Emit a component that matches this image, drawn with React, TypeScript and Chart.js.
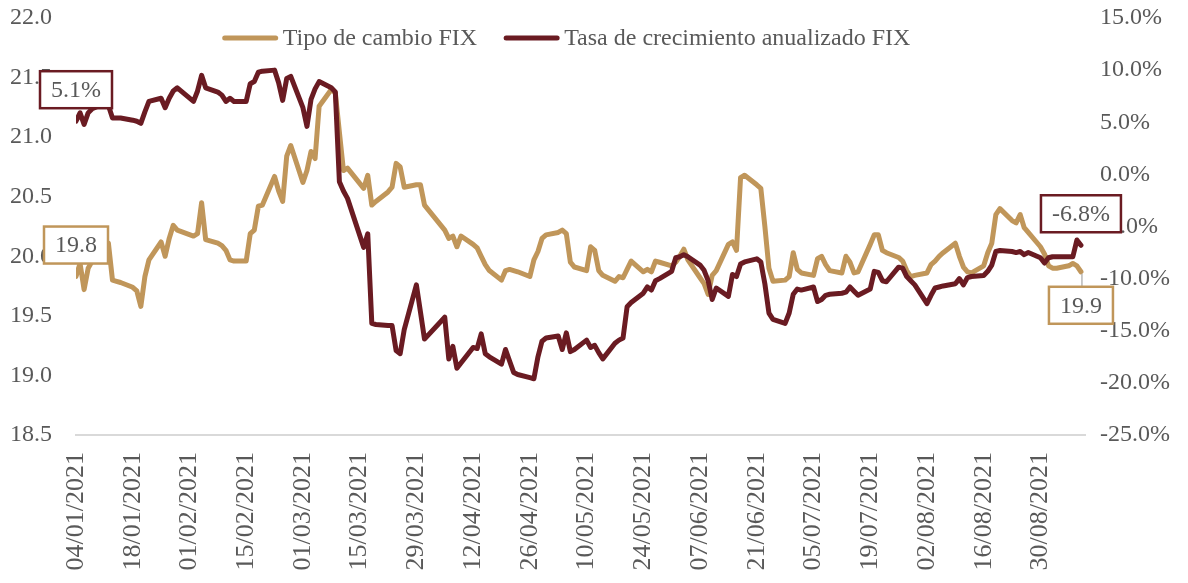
import { useEffect, useRef } from 'react';
import { Chart, registerables } from 'chart.js';

Chart.register(...registerables);

const YEAR = 2021;

// Business days (dd/mm)
const dates: string[] = [
  '04/01','05/01','06/01','07/01','08/01','11/01','12/01','13/01','14/01','15/01','18/01','19/01','20/01','21/01','22/01','25/01','26/01','27/01','28/01','29/01',
  '02/02','03/02','04/02','05/02','08/02','09/02','10/02','11/02','12/02','15/02','16/02','17/02','18/02','19/02','22/02','23/02','24/02','25/02','26/02',
  '01/03','02/03','03/03','04/03','05/03','08/03','09/03','10/03','11/03','12/03','16/03','17/03','18/03','19/03','22/03','23/03','24/03','25/03','26/03','29/03','30/03','31/03',
  '05/04','06/04','07/04','08/04','09/04','12/04','13/04','14/04','15/04','16/04','19/04','20/04','21/04','22/04','23/04','26/04','27/04','28/04','29/04','30/04',
  '03/05','04/05','05/05','06/05','07/05','10/05','11/05','12/05','13/05','14/05','17/05','18/05','19/05','20/05','21/05','24/05','25/05','26/05','27/05','28/05','31/05',
  '01/06','02/06','03/06','04/06','07/06','08/06','09/06','10/06','11/06','14/06','15/06','16/06','17/06','18/06','21/06','22/06','23/06','24/06','25/06','28/06','29/06','30/06',
  '01/07','02/07','05/07','06/07','07/07','08/07','09/07','12/07','13/07','14/07','15/07','16/07','19/07','20/07','21/07','22/07','23/07','26/07','27/07','28/07','29/07','30/07',
  '02/08','03/08','04/08','05/08','06/08','09/08','10/08','11/08','12/08','13/08','16/08','17/08','18/08','19/08','20/08','23/08','24/08','25/08','26/08','27/08','30/08','31/08',
  '01/09','02/09','03/09','06/09','07/09','08/09','09/09',
];

// Tipo de cambio FIX (pesos por dólar)
const fixValues: number[] = [
  19.83,19.94,19.72,19.90,19.96,20.07,20.11,19.80,19.79,19.78,19.74,19.71,19.58,19.83,19.97,20.12,20.00,20.15,20.26,20.22,
  20.17,20.19,20.45,20.14,20.11,20.09,20.05,19.97,19.96,19.96,20.19,20.22,20.42,20.43,20.67,20.55,20.46,20.84,20.93,
  20.62,20.72,20.88,20.82,21.26,21.40,21.37,21.04,20.72,20.74,20.57,20.68,20.43,20.46,20.54,20.58,20.78,20.75,20.58,20.60,20.60,20.43,
  20.22,20.15,20.17,20.08,20.17,20.10,20.07,20.00,19.93,19.88,19.80,19.88,19.89,19.88,19.87,19.83,19.97,20.04,20.15,20.18,
  20.20,20.22,20.19,19.95,19.91,19.88,20.08,20.05,19.88,19.84,19.79,19.83,19.82,19.89,19.96,19.87,19.89,19.87,19.96,19.95,19.92,
  19.95,20.00,20.06,19.97,19.82,19.77,19.68,19.84,19.88,20.10,20.12,20.05,20.66,20.68,20.60,20.57,20.25,19.90,19.79,19.80,19.83,20.03,
  19.89,19.86,19.84,19.98,20.00,19.93,19.88,19.86,20.00,19.95,19.86,19.87,20.10,20.18,20.18,20.05,20.03,19.99,19.96,19.88,19.83,19.84,
  19.86,19.93,19.96,20.00,20.03,20.11,20.00,19.91,19.87,19.86,19.92,20.03,20.11,20.35,20.40,20.30,20.28,20.35,20.24,20.20,20.08,20.02,
  19.92,19.90,19.90,19.92,19.94,19.92,19.87,
];

// Tasa de crecimiento anualizado FIX (%)
const growthValues: number[] = [
  5.1,5.9,4.8,5.9,6.3,6.8,6.6,5.4,5.4,5.4,5.2,5.1,4.9,6.0,7.0,7.3,6.4,7.3,8.0,8.3,
  7.0,8.0,9.5,8.3,7.9,7.6,7.0,7.3,7.0,7.0,8.7,8.9,9.8,9.9,10.0,8.8,7.1,9.2,9.4,
  6.4,4.6,7.2,8.2,8.9,8.3,7.9,-0.7,-1.6,-2.3,-7.0,-5.7,-14.3,-14.4,-14.5,-14.5,-16.9,-17.2,-14.9,-10.6,-13.2,-15.8,
  -13.7,-17.7,-16.5,-18.6,-18.1,-16.6,-16.7,-15.3,-17.2,-17.5,-18.2,-16.8,-17.9,-19.0,-19.2,-19.5,-19.6,-17.5,-16.0,-15.7,
  -15.5,-16.8,-15.2,-17.0,-16.8,-15.9,-16.6,-16.4,-17.1,-17.7,-16.2,-15.9,-15.7,-12.7,-12.3,-11.4,-10.8,-11.1,-10.2,-10.0,-9.3,
  -8.0,-7.9,-7.7,-7.9,-8.7,-9.2,-10.2,-12.0,-10.9,-11.7,-9.6,-9.8,-8.6,-8.4,-8.1,-8.4,-10.5,-13.3,-13.9,-14.3,-13.3,-11.5,
  -11.0,-11.1,-10.8,-12.2,-12.0,-11.6,-11.5,-11.4,-11.3,-10.8,-11.2,-11.6,-11.0,-9.3,-9.4,-10.2,-10.3,-8.9,-9.0,-9.8,-10.2,-10.6,
  -12.4,-11.6,-10.9,-10.8,-10.7,-10.5,-10.0,-10.6,-9.9,-9.8,-9.7,-9.3,-8.7,-7.4,-7.3,-7.4,-7.5,-7.4,-7.7,-7.5,-8.0,-8.5,
  -8.0,-7.9,-7.9,-7.9,-7.9,-6.3,-6.8,
];

const tickDates: string[] = ['04/01','18/01','01/02','15/02','01/03','15/03','29/03','12/04','26/04','10/05','24/05','07/06','21/06','05/07','19/07','02/08','16/08','30/08'];

const fixTicks = { min: 18.5, max: 22.0, step: 0.5 };
const growthTicks = { min: -25, max: 15, step: 5 };

const seriesNames: string[] = ['Tipo de cambio FIX', 'Tasa de crecimiento anualizado FIX'];

const GOLD = '#C0965A';
const MAROON = '#6A1B22';
const TEXT = '#595959';
const FONT = '"Liberation Serif", "Times New Roman", serif';

const START = Date.UTC(YEAR, 0, 4);
function dayOf(s: string): number {
  const [d, m] = s.split('/').map(Number);
  return (Date.UTC(YEAR, m - 1, d) - START) / 86400000;
}
function labelOf(v: number): string {
  const dt = new Date(START + v * 86400000);
  const dd = String(dt.getUTCDate()).padStart(2, '0');
  const mm = String(dt.getUTCMonth() + 1).padStart(2, '0');
  return `${dd}/${mm}/${dt.getUTCFullYear()}`;
}

const legendPlugin = {
  id: 'customLegend',
  afterDraw(chart: any) {
    const ctx = chart.ctx;
    const area = chart.chartArea;
    ctx.save();
    ctx.font = `24px ${FONT}`;
    const lineW = 55;
    const gap = 5;
    const spacing = 27;
    const order = [0, 1];
    const widths = order.map((i) => lineW + gap + ctx.measureText(chart.data.datasets[i].label).width);
    const total = widths.reduce((a, b) => a + b, 0) + spacing;
    let x = (area.left + area.right) / 2 - total / 2 - 14;
    const y = 38;
    order.forEach((i, k) => {
      const ds = chart.data.datasets[i];
      ctx.strokeStyle = ds.borderColor;
      ctx.lineWidth = 5;
      ctx.lineCap = 'round';
      ctx.beginPath();
      ctx.moveTo(x + 2, y);
      ctx.lineTo(x + lineW - 2, y);
      ctx.stroke();
      ctx.fillStyle = TEXT;
      ctx.textBaseline = 'middle';
      ctx.textAlign = 'left';
      ctx.fillText(ds.label, x + lineW + gap, y + 1);
      x += widths[k] + spacing;
    });
    ctx.restore();
  },
};

const labelPlugin = {
  id: 'endLabels',
  afterDatasetsDraw(chart: any) {
    const ctx = chart.ctx;
    const last = dates.length - 1;
    const specs = [
      { ds: 0, idx: 0, above: true, leader: false, fmt: (v: number) => v.toFixed(1) },
      { ds: 0, idx: last, above: false, leader: true, fmt: (v: number) => v.toFixed(1) },
      { ds: 1, idx: 0, above: true, leader: false, fmt: (v: number) => v.toFixed(1) + '%' },
      { ds: 1, idx: last, above: true, leader: false, fmt: (v: number) => v.toFixed(1) + '%' },
    ];
    ctx.save();
    ctx.font = `24px ${FONT}`;
    specs.forEach((s) => {
      const meta = chart.getDatasetMeta(s.ds);
      const el = meta.data[s.idx];
      const ds = chart.data.datasets[s.ds];
      const val = ds.data[s.idx].y;
      const text = s.fmt(val);
      const tw = ctx.measureText(text).width;
      const w = tw + 22;
      const h = 37;
      const cx = el.x;
      let top: number;
      if (s.above) {
        top = el.y - 13 - h;
      } else {
        top = el.y + 15;
      }
      if (s.leader) {
        ctx.strokeStyle = '#A6A6A6';
        ctx.lineWidth = 1.2;
        ctx.beginPath();
        ctx.moveTo(cx + 1, el.y + 2);
        ctx.lineTo(cx + 1, top);
        ctx.stroke();
      }
      ctx.fillStyle = '#FFFFFF';
      ctx.fillRect(cx - w / 2, top, w, h);
      ctx.strokeStyle = ds.borderColor;
      ctx.lineWidth = 2.5;
      ctx.strokeRect(cx - w / 2, top, w, h);
      ctx.fillStyle = TEXT;
      ctx.textAlign = 'center';
      ctx.textBaseline = 'middle';
      ctx.fillText(text, cx, top + h / 2 + 1);
    });
    ctx.restore();
  },
};

// Forces the plot area to a fixed box so axes line up with the reference.
const areaPlugin = {
  id: 'fixedArea',
  afterLayout(chart: any) {
    const a = chart.chartArea;
    a.top = 18;
    a.bottom = 435;
    a.left = 76;
    a.right = 1085;
    a.width = a.right - a.left;
    a.height = a.bottom - a.top;
    Object.values(chart.scales).forEach((s: any) => {
      if (s.isHorizontal()) {
        s.left = a.left;
        s.right = a.right;
        s.width = a.width;
        s.top = a.bottom;
        s.bottom = chart.height;
        s.height = s.bottom - s.top;
      } else {
        s.top = a.top;
        s.bottom = a.bottom;
        s.height = a.height;
        if (s.position === 'left') {
          s.left = 0;
          s.right = a.left;
        } else {
          s.left = a.right;
          s.right = chart.width;
        }
        s.width = s.right - s.left;
      }
      s.configure();
      s._startPixel = s.isHorizontal() ? a.left : a.top;
      s._endPixel = s.isHorizontal() ? a.right : a.bottom;
      s._length = s._endPixel - s._startPixel;
    });
  },
};

export default function App() {
  const ref = useRef<HTMLCanvasElement>(null);
  useEffect(() => {
    const xMax = dayOf(dates[dates.length - 1]) + 1;
    const chart = new Chart(ref.current as HTMLCanvasElement, {
      type: 'line',
      data: {
        datasets: [
          {
            label: seriesNames[0],
            data: dates.map((d, i) => ({ x: dayOf(d), y: fixValues[i] })),
            borderColor: GOLD,
            backgroundColor: GOLD,
            borderWidth: 5,
            pointRadius: 0,
            tension: 0,
            borderJoinStyle: 'round',
            borderCapStyle: 'round',
            yAxisID: 'y',
            order: 1,
          },
          {
            label: seriesNames[1],
            data: dates.map((d, i) => ({ x: dayOf(d), y: growthValues[i] })),
            borderColor: MAROON,
            backgroundColor: MAROON,
            borderWidth: 5,
            pointRadius: 0,
            tension: 0,
            borderJoinStyle: 'round',
            borderCapStyle: 'round',
            yAxisID: 'y1',
            order: 0,
          },
        ],
      },
      options: {
        responsive: false,
        animation: false,
        devicePixelRatio: 1,
        layout: { padding: { top: 0, left: 0, right: 0, bottom: 0 } },
        plugins: { legend: { display: false }, tooltip: { enabled: false } },
        scales: {
          x: {
            type: 'linear',
            min: 0,
            max: xMax,
            afterBuildTicks: (s: any) => {
              s.ticks = tickDates.map((t) => ({ value: dayOf(t) }));
            },
            afterFit: (s: any) => {
              s.height = 148;
            },
            ticks: {
              autoSkip: false,
              minRotation: 90,
              maxRotation: 90,
              padding: 17,
              color: TEXT,
              font: { family: FONT, size: 26 },
              callback: (v: any) => labelOf(Number(v)),
            },
            grid: { display: false, drawTicks: false },
            border: { display: true, color: '#D9D9D9', width: 2 },
          },
          y: {
            position: 'left',
            min: fixTicks.min,
            max: fixTicks.max,
            afterFit: (s: any) => {
              s.width = 76;
            },
            ticks: {
              stepSize: fixTicks.step,
              padding: 24,
              color: TEXT,
              font: { family: FONT, size: 24 },
              callback: (v: any) => Number(v).toFixed(1),
            },
            grid: { display: false, drawTicks: false },
            border: { display: false },
          },
          y1: {
            position: 'right',
            min: growthTicks.min,
            max: growthTicks.max,
            afterFit: (s: any) => {
              s.width = 103;
            },
            ticks: {
              stepSize: growthTicks.step,
              padding: 15,
              color: TEXT,
              font: { family: FONT, size: 24 },
              callback: (v: any) => Number(v).toFixed(1) + '%',
            },
            grid: { display: false, drawTicks: false },
            border: { display: false },
          },
        },
      },
      plugins: [areaPlugin, labelPlugin, legendPlugin],
    } as any);
    return () => chart.destroy();
  }, []);
  return (
    <div style={{ position: 'fixed', left: 0, top: 0, width: 1188, height: 583, background: '#FFFFFF' }}>
      <canvas ref={ref} width={1188} height={583} style={{ display: 'block', width: 1188, height: 583 }} />
    </div>
  );
}
